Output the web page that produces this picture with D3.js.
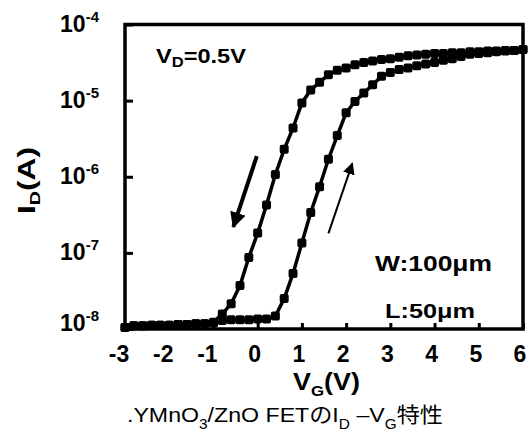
<!DOCTYPE html>
<html>
<head>
<meta charset="utf-8">
<script src="https://cdn.jsdelivr.net/npm/d3@7"></script>
<style>
  body { margin: 0; background: #fff; }
  svg { display: block; }
  text { font-family: "Liberation Sans", Arial, "Noto Sans CJK JP", sans-serif; fill: #000; }
  .b { font-weight: bold; }
</style>
</head>
<body>
<script>
// gate voltage grid (V)
var vg = [-3.0, -2.8, -2.6, -2.4, -2.2, -2.0, -1.8, -1.6, -1.4, -1.2, -1.0, -0.8, -0.6, -0.4, -0.2,
          0.0, 0.2, 0.4, 0.6, 0.8, 1.0, 1.2, 1.4, 1.6, 1.8, 2.0, 2.2, 2.4, 2.6, 2.8, 3.0,
          3.2, 3.4, 3.6, 3.8, 4.0, 4.2, 4.4, 4.6, 4.8, 5.0, 5.2, 5.4, 5.6, 5.8, 6.0];
// forward sweep -3 -> 6 (A)
var idFwd = [1.05e-8, 1.10e-8, 1.10e-8, 1.12e-8, 1.12e-8, 1.12e-8, 1.15e-8, 1.15e-8, 1.17e-8, 1.17e-8,
             1.20e-8, 1.29e-8, 1.32e-8, 1.32e-8, 1.32e-8, 1.35e-8, 1.35e-8, 1.48e-8, 2.51e-8, 5.37e-8,
             1.35e-7, 3.39e-7, 7.41e-7, 1.70e-6, 3.47e-6, 6.92e-6, 9.77e-6, 1.26e-5, 1.62e-5, 2.09e-5,
             2.34e-5, 2.57e-5, 2.69e-5, 2.88e-5, 3.02e-5, 3.16e-5, 3.39e-5, 3.55e-5, 3.80e-5, 4.07e-5,
             4.17e-5, 4.27e-5, 4.37e-5, 4.47e-5, 4.57e-5, 4.68e-5];
// reverse sweep 6 -> -3 (A), listed on the same vg grid
var idRev = [1.05e-8, 1.10e-8, 1.10e-8, 1.12e-8, 1.12e-8, 1.12e-8, 1.15e-8, 1.15e-8, 1.17e-8, 1.17e-8,
             1.23e-8, 1.58e-8, 2.14e-8, 3.72e-8, 8.71e-8, 1.82e-7, 4.27e-7, 1.07e-6, 2.29e-6, 4.37e-6,
             9.33e-6, 1.38e-5, 1.74e-5, 2.19e-5, 2.51e-5, 2.69e-5, 2.95e-5, 3.16e-5, 3.31e-5, 3.47e-5,
             3.55e-5, 3.72e-5, 3.89e-5, 3.98e-5, 4.07e-5, 4.17e-5, 4.17e-5, 4.27e-5, 4.27e-5, 4.37e-5,
             4.37e-5, 4.47e-5, 4.47e-5, 4.57e-5, 4.57e-5, 4.68e-5];

var xTicks = [-3, -2, -1, 0, 1, 2, 3, 4, 5, 6];
var yExps = [-4, -5, -6, -7, -8];

var width = 531, height = 439;
var margin = {left:125, top:24.5, right:8, bottom:110};
var frame_w = width - margin.left - margin.right;
var frame_h = height - margin.top - margin.bottom;

var svg = d3.select("body").append("svg")
    .attr("width", width)
    .attr("height", height);

var xScale = d3.scaleLinear().domain([-3, 6]).range([0, frame_w]);
var yScale = d3.scaleLog().domain([1e-8, 1e-4]).range([frame_h, 0]);

var g = svg.append("g").attr("transform", "translate(" + margin.left + "," + margin.top + ")");

// inward ticks
var xAxis = d3.axisBottom(xScale).tickValues(xTicks).tickSize(-6).tickFormat("");
var yAxis = d3.axisLeft(yScale).tickValues(yExps.map(function(e){ return Math.pow(10, e); })).tickSize(-8).tickFormat("");
g.append("g").attr("transform", "translate(0," + frame_h + ")").call(xAxis)
  .call(function(s){ s.select(".domain").remove(); s.selectAll("line").attr("stroke-width", 3); });
g.append("g").call(yAxis)
  .call(function(s){ s.select(".domain").remove(); s.selectAll("line").attr("stroke-width", 3); });

// curves
var line = d3.line().x(function(d){ return xScale(d[0]); }).y(function(d){ return yScale(d[1]); });
[idFwd, idRev].forEach(function(series) {
  var pts = vg.map(function(v, i){ return [v, series[i]]; });
  g.append("path").datum(pts).attr("d", line)
    .attr("fill", "none").attr("stroke", "#000").attr("stroke-width", 3.5);
  g.selectAll(null).data(pts).enter().append("rect")
    .attr("x", function(d){ return xScale(d[0]) - 4.5; })
    .attr("y", function(d){ return yScale(d[1]) - 4.5; })
    .attr("width", 9).attr("height", 9).attr("rx", 2)
    .attr("fill", "#000");
});

// frame
g.append("rect").attr("width", frame_w).attr("height", frame_h)
  .attr("fill", "none").attr("stroke", "#000").attr("stroke-width", 3.5);

// sweep direction arrows
var defs = svg.append("defs");
defs.append("marker").attr("id", "headBig").attr("viewBox", "0 0 10 10")
  .attr("refX", 9).attr("refY", 5).attr("markerWidth", 4).attr("markerHeight", 4)
  .attr("markerUnits", "strokeWidth").attr("orient", "auto")
  .append("path").attr("d", "M0,0L10,5L0,10z").attr("fill", "#000");
defs.append("marker").attr("id", "headSmall").attr("viewBox", "0 0 10 10")
  .attr("refX", 9).attr("refY", 5).attr("markerWidth", 6).attr("markerHeight", 6)
  .attr("markerUnits", "strokeWidth").attr("orient", "auto")
  .append("path").attr("d", "M0,0L10,5L0,10z").attr("fill", "#000");

g.append("line")
  .attr("x1", xScale(-0.02)).attr("y1", yScale(1.86e-6))
  .attr("x2", xScale(-0.55)).attr("y2", yScale(2.2e-7))
  .attr("stroke", "#000").attr("stroke-width", 4).attr("marker-end", "url(#headBig)");
g.append("line")
  .attr("x1", xScale(1.6)).attr("y1", yScale(1.8e-7))
  .attr("x2", xScale(2.14)).attr("y2", yScale(1.5e-6))
  .attr("stroke", "#000").attr("stroke-width", 2).attr("marker-end", "url(#headSmall)");

// tick labels
svg.append("g").selectAll("text").data(xTicks).enter().append("text")
  .attr("class", "b").attr("font-size", 23).attr("text-anchor", "middle")
  .attr("x", function(d){ return margin.left + xScale(d) - (d < 0 ? 6 : 3); })
  .attr("y", 362)
  .text(function(d){ return d; });

var yl = svg.append("g").selectAll("text").data(yExps).enter().append("text")
  .attr("class", "b").attr("text-anchor", "end")
  .attr("x", 99)
  .attr("y", function(d){ return Math.min(margin.top + yScale(Math.pow(10, d)) + 7, 331); });
yl.append("tspan").attr("font-size", 23).text("10");
yl.append("tspan").attr("font-size", 15).attr("dy", -10).text(function(d){ return d; });

// axis titles
var xt = svg.append("text").attr("class", "b").attr("font-size", 24).attr("x", 293).attr("y", 390)
  .attr("textLength", 67).attr("lengthAdjust", "spacingAndGlyphs");
xt.append("tspan").text("V");
xt.append("tspan").attr("font-size", 15).attr("dy", 6).text("G");
xt.append("tspan").attr("dy", -6).text("(V)");

var yt = svg.append("text").attr("class", "b").attr("font-size", 24)
  .attr("transform", "translate(35,214) rotate(-90)")
  .attr("textLength", 67).attr("lengthAdjust", "spacingAndGlyphs");
yt.append("tspan").text("I");
yt.append("tspan").attr("font-size", 15).attr("dy", 5).text("D");
yt.append("tspan").attr("dy", -5).text("(A)");

// annotations
var vd = svg.append("text").attr("class", "b").attr("font-size", 20).attr("x", 156).attr("y", 63)
  .attr("textLength", 90).attr("lengthAdjust", "spacingAndGlyphs");
vd.append("tspan").text("V");
vd.append("tspan").attr("font-size", 14).attr("dy", 4).text("D");
vd.append("tspan").attr("dy", -4).text("=0.5V");

svg.append("text").attr("class", "b").attr("font-size", 22).attr("x", 375).attr("y", 271)
  .attr("textLength", 117).attr("lengthAdjust", "spacingAndGlyphs").text("W:100μm");
svg.append("text").attr("class", "b").attr("font-size", 21).attr("x", 385).attr("y", 318)
  .attr("textLength", 90).attr("lengthAdjust", "spacingAndGlyphs").text("L:50μm");

// caption
var cap = svg.append("text").attr("font-size", 21).attr("x", 127).attr("y", 422)
  .attr("textLength", 316).attr("lengthAdjust", "spacingAndGlyphs");
cap.append("tspan").text(".YMnO");
cap.append("tspan").attr("font-size", 14).attr("dy", 7).text("3");
cap.append("tspan").attr("dy", -7).text("/ZnO FETのI");
cap.append("tspan").attr("font-size", 14).attr("dy", 7).text("D");
cap.append("tspan").attr("dy", -7).text(" –V");
cap.append("tspan").attr("font-size", 14).attr("dy", 7).text("G");
cap.append("tspan").attr("dy", -7).text("特性");
</script>
</body>
</html>
